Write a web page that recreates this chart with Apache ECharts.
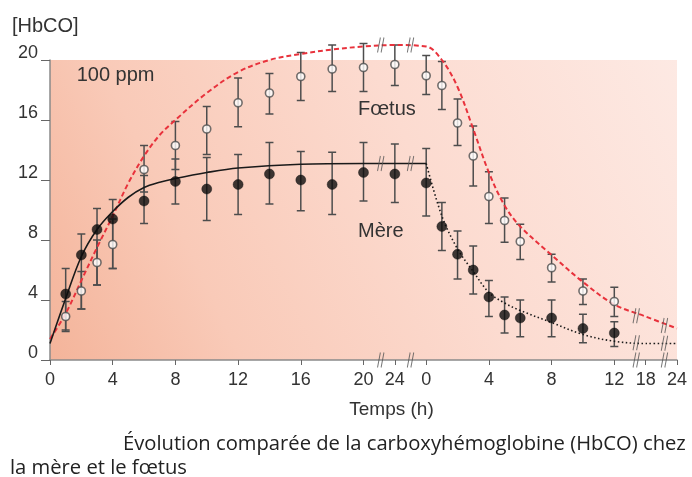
<!DOCTYPE html>
<html>
<head>
<meta charset="utf-8">
<script src="https://cdn.jsdelivr.net/npm/echarts@6/dist/echarts.min.js"></script>
<style>
  html, body { margin: 0; padding: 0; background: #fff; }
  #chart { width: 692px; height: 477px; }
</style>
</head>
<body>
<div id="chart"></div>
<script>
// exposition (100 ppm), puis récupération : temps en heures
var expoHours = [1, 2, 3, 4, 6, 8, 10, 12, 14, 16, 18, 20, 24]
var mereExpo = [4.4, 7.0, 8.7, 9.4, 10.6, 11.9, 11.4, 11.7, 12.4, 12.0, 11.7, 12.5, 12.4]
var mereExpoErr = [[2.0, 6.1], [3.4, 8.4], [5.0, 10.1], [6.1, 10.7], [9.1, 12.3], [10.4, 13.4], [9.3, 13.5], [9.7, 13.7], [10.4, 14.5], [9.95, 13.9], [9.7, 13.85], [10.6, 14.5], [10.5, 14.4]]
var foetusExpo = [2.9, 4.6, 6.5, 7.7, 12.7, 14.3, 15.4, 17.15, 17.8, 18.9, 19.4, 19.5, 19.7]
var foetusExpoErr = [[1.9, 3.9], [3.4, 5.9], [5.0, 8.0], [6.1, 9.4], [11.2, 14.3], [12.7, 15.9], [13.7, 16.9], [15.55, 18.8], [16.4, 19.1], [17.3, 20.5], [17.9, 21.0], [17.9, 21.1], [18.3, 21.0]]

var recupHours = [0, 1, 2, 3, 4, 5, 6, 8, 10, 12]
var mereRecup = [11.8, 8.9, 7.05, 6.0, 4.2, 3.0, 2.8, 2.8, 2.1, 1.8]
var mereRecupErr = [[9.6, 14.1], [7.3, 10.5], [5.4, 8.6], [4.4, 7.6], [2.9, 5.3], [1.8, 4.2], [1.55, 4.0], [1.55, 4.0], [1.15, 3.05], [0.9, 2.55]]
var foetusRecup = [18.95, 18.3, 15.8, 13.6, 10.9, 9.3, 7.9, 6.15, 4.6, 3.9]
var foetusRecupErr = [[17.7, 20.3], [16.7, 19.9], [14.3, 17.4], [11.6, 15.6], [9.1, 12.55], [7.85, 10.8], [6.7, 9.05], [5.2, 7.05], [3.7, 5.4], [2.9, 4.85]]

// courbes
var mereCourbeExpoH = [0, 1, 2, 3, 4, 5, 6, 7, 8, 10, 12, 16, 20, 24]
var mereCourbeExpo = [1.1, 4.1, 6.9, 8.7, 9.9, 10.85, 11.5, 11.85, 12.1, 12.5, 12.8, 13.05, 13.1, 13.1]
var mereCourbeRecupH = [0, 1, 2, 3, 4, 5, 6, 8, 10, 12, 18, 24]
var mereCourbeRecup = [13.1, 9.6, 7.4, 5.9, 4.5, 3.8, 3.3, 2.5, 1.7, 1.25, 1.1, 1.1]
var foetusCourbeExpoH = [0, 1, 2, 3, 4, 5, 6, 7, 8, 10, 12, 14, 16, 18, 20, 24]
var foetusCourbeExpo = [1.4, 3.1, 5.3, 7.5, 9.6, 11.8, 13.6, 15.0, 16.0, 17.8, 19.2, 20.0, 20.4, 20.7, 20.9, 21.0]
var foetusCourbeRecupH = [0, 1, 2, 3, 4, 5, 6, 8, 10, 12, 18, 24]
var foetusCourbeRecup = [20.9, 20.0, 18.2, 15.4, 12.5, 10.3, 8.9, 7.0, 5.2, 3.7, 2.9, 2.1]

// axe des temps coupé
var tickPos = [0, 4, 8, 12, 16, 20, 22, 24, 28, 32, 36, 38, 40]
var tickLabels = ['0', '4', '8', '12', '16', '20', '24', '0', '4', '8', '12', '18', '24']
var breakPos = [21.1, 23.0, 37.4, 39.2]

function posExpo(h) { return h <= 20 ? h : 20 + (h - 20) / 2 }
function posRecup(h) { return h <= 12 ? 24 + h : 36 + (h - 12) / 3 }

function pts(hours, vals, f) {
  return hours.map(function(h, i) { return [f(h), vals[i]] })
}
function bars(hours, errs, f) {
  return hours.map(function(h, i) { return [f(h), errs[i][0], errs[i][1]] })
}

var mereSolid = pts(mereCourbeExpoH, mereCourbeExpo, posExpo).concat([[posRecup(0), mereCourbeRecup[0]]])
var mereDotted = pts(mereCourbeRecupH, mereCourbeRecup, posRecup)
var foetusLine = pts(foetusCourbeExpoH, foetusCourbeExpo, posExpo).concat(pts(foetusCourbeRecupH, foetusCourbeRecup, posRecup))

var errData = bars(expoHours, mereExpoErr, posExpo).concat(bars(recupHours, mereRecupErr, posRecup))
  .concat(bars(expoHours, foetusExpoErr, posExpo)).concat(bars(recupHours, foetusRecupErr, posRecup))

// petites marques de coupure "//"
var breakY = { axis: 0, foetus: [21.0, 21.0, 2.95, 2.3], mere: [13.1, 13.1, 1.15, 1.12] }
var breakData = []
breakPos.forEach(function(p, i) {
  breakData.push([p, breakY.axis])
  breakData.push([p, breakY.foetus[i]])
  breakData.push([p, breakY.mere[i]])
})

var chart = echarts.init(document.getElementById('chart'))
var axisFont = 'Liberation Sans'
var captionStyle = { fontFamily: 'Open Sans', fontSize: 20.2, fontWeight: 'normal', color: '#222' }

var option = {
  animation: false,
  textStyle: { fontFamily: axisFont },
  title: [
    { text: '[HbCO]', left: 12, top: 16, padding: 0, textStyle: { fontFamily: axisFont, fontSize: 20, fontWeight: 'normal', color: '#333' } },
    { text: 'Évolution comparée de la carboxyhémoglobine (HbCO) chez', left: 123, top: 434, padding: 0, textStyle: captionStyle },
    { text: 'la mère et le fœtus', left: 10, top: 458, padding: 0, textStyle: captionStyle }
  ],
  grid: {
    left: 50, right: 15, top: 60, bottom: 117,
    show: true, borderWidth: 0,
    backgroundColor: new echarts.graphic.LinearGradient(0, 1, 1, 0, [
      { offset: 0, color: '#f4b49a' },
      { offset: 0.25, color: '#f9cab8' },
      { offset: 0.6, color: '#fcdbd0' },
      { offset: 1, color: '#fde9e3' }
    ])
  },
  xAxis: {
    type: 'value', min: 0, max: 40,
    name: 'Temps (h)', nameLocation: 'middle', nameGap: 40,
    nameTextStyle: { fontSize: 19, color: '#333', padding: [0, 0, 0, 56] },
    splitLine: { show: false },
    axisLine: { lineStyle: { color: '#8a8a8a', width: 1.5 } },
    axisTick: { customValues: tickPos, length: 5, lineStyle: { color: '#666' } },
    axisLabel: {
      customValues: tickPos, margin: 11, fontSize: 18, color: '#333',
      formatter: function(v) { return tickLabels[tickPos.indexOf(v)] }
    }
  },
  yAxis: {
    type: 'value', min: 0, max: 20, interval: 4,
    splitLine: { show: false },
    axisLine: { show: true, lineStyle: { color: '#8a8a8a', width: 1.5 } },
    axisTick: { show: true, length: 9, lineStyle: { color: '#666' } },
    axisLabel: { margin: 12, fontSize: 18, color: '#333', verticalAlign: 'bottom', lineHeight: 14 }
  },
  series: [
    {
      name: 'Fœtus courbe', type: 'line', data: foetusLine, smooth: 0.35, clip: false,
      symbol: 'none', lineStyle: { color: '#e8323c', width: 2, type: [5, 3] },
      markPoint: {
        symbol: 'circle', symbolSize: 0,
        label: { show: true, position: 'right', distance: 0, fontSize: 20, color: '#333' },
        data: [
          { coord: [19.65, 16.7], value: 'Fœtus', label: { formatter: 'Fœtus' } },
          { coord: [1.7, 19.0], value: '100 ppm', label: { formatter: '100 ppm' } }
        ]
      }
    },
    {
      name: 'Mère courbe', type: 'line', data: mereSolid, smooth: 0.35, clip: false,
      symbol: 'none', lineStyle: { color: '#1a1a1a', width: 1.6 },
      markPoint: {
        symbol: 'circle', symbolSize: 0,
        label: { show: true, position: 'right', distance: 0, fontSize: 20, color: '#333' },
        data: [{ coord: [19.65, 8.6], value: 'Mère', label: { formatter: 'Mère' } }]
      }
    },
    {
      name: 'Mère récupération', type: 'line', data: mereDotted, smooth: 0.35, clip: false,
      symbol: 'none', lineStyle: { color: '#1a1a1a', width: 1.6, type: [1.5, 2.5] }
    },
    {
      name: 'Erreurs', type: 'custom', clip: false, z: 3,
      renderItem: function(params, api) {
        var x = api.value(0)
        var lo = api.coord([x, api.value(1)])
        var hi = api.coord([x, api.value(2)])
        var w = 4
        var st = { stroke: '#4d4d4d', lineWidth: 1.5 }
        return {
          type: 'group',
          children: [
            { type: 'line', shape: { x1: lo[0], y1: lo[1], x2: hi[0], y2: hi[1] }, style: st },
            { type: 'line', shape: { x1: lo[0] - w, y1: lo[1], x2: lo[0] + w, y2: lo[1] }, style: st },
            { type: 'line', shape: { x1: hi[0] - w, y1: hi[1], x2: hi[0] + w, y2: hi[1] }, style: st }
          ]
        }
      },
      encode: { x: 0, y: [1, 2] },
      data: errData
    },
    {
      name: 'Mère', type: 'scatter', z: 4, clip: false,
      data: pts(expoHours, mereExpo, posExpo).concat(pts(recupHours, mereRecup, posRecup)),
      symbol: 'circle', symbolSize: 10,
      itemStyle: { color: '#0d0d0d', borderColor: '#0d0d0d', borderWidth: 0.5 }
    },
    {
      name: 'Fœtus', type: 'scatter', z: 4, clip: false,
      data: pts(expoHours, foetusExpo, posExpo).concat(pts(recupHours, foetusRecup, posRecup)),
      symbol: 'circle', symbolSize: 8,
      itemStyle: { color: '#fff', borderColor: '#4d4d4d', borderWidth: 1.6 }
    },
    {
      name: 'Coupures', type: 'scatter', z: 5, clip: false, silent: true,
      data: breakData,
      symbol: 'path://M0,14 L4,0 M5,14 L9,0', symbolSize: [10, 15], symbolKeepAspect: true,
      itemStyle: { color: 'none', borderColor: '#555', borderWidth: 1.2 }
    }
  ]
}

chart.setOption(option)
</script>
</body>
</html>
